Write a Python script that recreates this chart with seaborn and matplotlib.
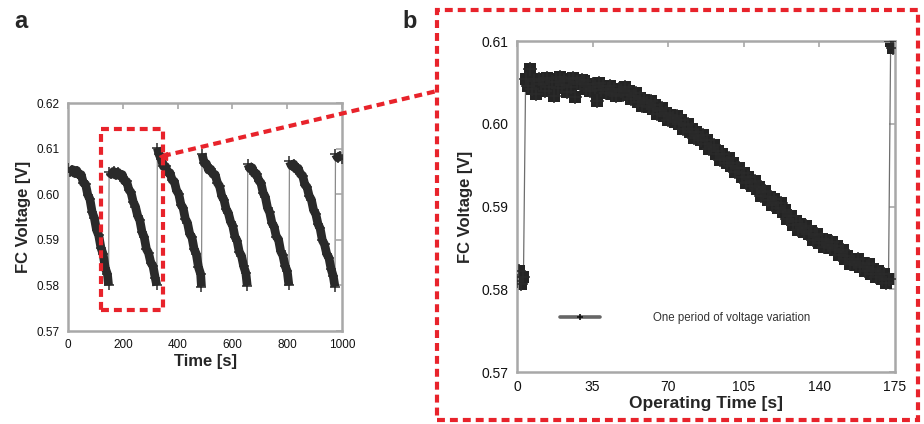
import numpy as np
import pandas as pd
import matplotlib
matplotlib.use("Agg")
import matplotlib.pyplot as plt
import seaborn as sns
from matplotlib.patches import Rectangle
from matplotlib.lines import Line2D

# ------------------------
# Data
# ------------------------
# panel a : FC voltage over 1000 s (six discharge cycles)
left_time = [0, 8, 16, 24, 32, 40, 48, 56, 64, 72, 80, 88, 96, 104, 112, 120, 128, 136, 144, 148,
             150, 158, 166, 174, 182, 190, 198, 206, 214, 222, 230, 238, 246, 254, 262, 270, 278, 286, 294, 302, 310, 318, 324,
             326, 332, 340, 348, 356, 364, 372, 380, 388, 396, 404, 412, 420, 428, 436, 444, 452, 460, 468, 476, 484, 487,
             489, 497, 505, 513, 521, 529, 537, 545, 553, 561, 569, 577, 585, 593, 601, 609, 617, 625, 633, 641, 649, 654,
             656, 664, 672, 680, 688, 696, 704, 712, 720, 728, 736, 744, 752, 760, 768, 776, 784, 792, 800, 806,
             808, 816, 824, 832, 840, 848, 856, 864, 872, 880, 888, 896, 904, 912, 920, 928, 936, 944, 952, 960, 968, 974,
             976, 984, 992, 1000]
left_volt = [0.6057, 0.6049, 0.6054, 0.6046, 0.6052, 0.6043, 0.6043, 0.6025, 0.6022, 0.5999, 0.5989, 0.5961, 0.5948, 0.5922, 0.5910, 0.5883, 0.5869, 0.5838, 0.5824, 0.5800,
             0.6049, 0.6044, 0.6050, 0.6042, 0.6048, 0.6040, 0.6043, 0.6029, 0.6028, 0.6010, 0.6004, 0.5983, 0.5973, 0.5953, 0.5943, 0.5917, 0.5906, 0.5880, 0.5871, 0.5850, 0.5843, 0.5817, 0.5800,
             0.6102, 0.6088, 0.6077, 0.6061, 0.6061, 0.6048, 0.6047, 0.6031, 0.6028, 0.6008, 0.6001, 0.5977, 0.5970, 0.5946, 0.5937, 0.5913, 0.5906, 0.5880, 0.5869, 0.5840, 0.5825, 0.5797,
             0.6089, 0.6068, 0.6067, 0.6053, 0.6055, 0.6044, 0.6043, 0.6025, 0.6018, 0.5996, 0.5988, 0.5967, 0.5959, 0.5940, 0.5931, 0.5907, 0.5898, 0.5873, 0.5865, 0.5842, 0.5827, 0.5799,
             0.6066, 0.6056, 0.6058, 0.6045, 0.6045, 0.6030, 0.6025, 0.6003, 0.5994, 0.5970, 0.5960, 0.5937, 0.5929, 0.5907, 0.5901, 0.5875, 0.5866, 0.5843, 0.5831, 0.5800,
             0.6072, 0.6062, 0.6066, 0.6055, 0.6057, 0.6044, 0.6041, 0.6021, 0.6016, 0.5996, 0.5988, 0.5965, 0.5957, 0.5935, 0.5925, 0.5899, 0.5890, 0.5869, 0.5861, 0.5836, 0.5820, 0.5797,
             0.6088, 0.6080, 0.6084, 0.6078]
left_cycle = [1] * 20 + [2] * 23 + [3] * 22 + [4] * 22 + [5] * 20 + [6] * 22 + [7] * 4

# panel b : one period of voltage variation, one sample per second
right_volt = [0.5810, 0.5822, 0.5806, 0.5815,
              0.6054, 0.6046, 0.6066, 0.6042, 0.6052, 0.6036, 0.6054, 0.6048, 0.6053, 0.6040,
              0.6055, 0.6045, 0.6050, 0.6033, 0.6054, 0.6043, 0.6056, 0.6047, 0.6052, 0.6038,
              0.6054, 0.6044, 0.6055, 0.6032, 0.6051, 0.6048, 0.6053,
              0.6052, 0.6042, 0.6048, 0.6039, 0.6048, 0.6044, 0.6028, 0.6049, 0.6041, 0.6046,
              0.6037, 0.6042, 0.6046, 0.6036, 0.6042, 0.6034, 0.6042, 0.6039, 0.6035, 0.6044,
              0.6035, 0.6040, 0.6030, 0.6034, 0.6037, 0.6026, 0.6031, 0.6022, 0.6029, 0.6025,
              0.6020, 0.6028, 0.6018, 0.6023, 0.6012, 0.6017, 0.6019, 0.6009, 0.6013, 0.6004,
              0.6011, 0.6007, 0.6002, 0.6009, 0.6000, 0.6004, 0.5994, 0.5998, 0.6000, 0.5990,
              0.5994, 0.5983, 0.5990, 0.5985, 0.5980, 0.5986, 0.5976, 0.5980, 0.5969, 0.5972,
              0.5974, 0.5963, 0.5967, 0.5956, 0.5963, 0.5958, 0.5953, 0.5959, 0.5949, 0.5953,
              0.5942, 0.5946, 0.5947, 0.5936, 0.5940, 0.5929, 0.5936, 0.5930, 0.5925, 0.5931,
              0.5921, 0.5924, 0.5913, 0.5917, 0.5919, 0.5908, 0.5912, 0.5902, 0.5909, 0.5904,
              0.5898, 0.5904, 0.5893, 0.5896, 0.5885, 0.5888, 0.5889, 0.5878, 0.5882, 0.5872,
              0.5879, 0.5874, 0.5869, 0.5876, 0.5867, 0.5871, 0.5860, 0.5865, 0.5867, 0.5856,
              0.5861, 0.5851, 0.5859, 0.5854, 0.5850, 0.5857, 0.5848, 0.5852, 0.5841, 0.5845,
              0.5847, 0.5836, 0.5840, 0.5830, 0.5837, 0.5833, 0.5829, 0.5837, 0.5827, 0.5832,
              0.5822, 0.5827, 0.5830, 0.5819, 0.5824, 0.5815, 0.5822, 0.5818, 0.5812, 0.5819,
              0.5808, 0.5812, 0.6100, 0.6092]
right_time = np.arange(len(right_volt))

left_xticks = [0, 200, 400, 600, 800, 1000]
left_yticks = [0.57, 0.58, 0.59, 0.60, 0.61, 0.62]
right_xticks = [0, 35, 70, 105, 140, 175]
right_yticks = [0.57, 0.58, 0.59, 0.60, 0.61]
legend_label = "One period of voltage variation"

df_a = pd.DataFrame({"t": left_time, "v": left_volt, "cycle": left_cycle})
df_b = pd.DataFrame({"t": right_time, "v": right_volt})

# ------------------------
# Style
# ------------------------
sns.set_style("white")
plt.rcParams["font.family"] = ["Liberation Sans", "DejaVu Sans"]

RED = "#e8232b"
FRAME = "#a8a8a8"
DASH = (0, (1.9, 1.2))

fig = plt.figure(figsize=(9.24, 4.24), dpi=100)
ax_a = fig.add_axes([0.0736, 0.2193, 0.2966, 0.5377])
ax_b = fig.add_axes([0.5595, 0.1226, 0.4091, 0.7807])


def style_axes(ax, size):
    for sp in ax.spines.values():
        sp.set_color(FRAME)
        sp.set_linewidth(1.8)
    ax.tick_params(direction="in", length=4, width=1.2, color=FRAME,
                   top=True, right=True, labelsize=size, labelcolor="#111111", pad=6)


# ------------------------
# Panel a
# ------------------------
sns.lineplot(data=df_a, x="t", y="v", sort=False, estimator=None, color="#8a8a8a",
             linewidth=0.9, zorder=1, ax=ax_a, legend=False)
sns.lineplot(data=df_a, x="t", y="v", units="cycle", estimator=None, color="#2a2a2a",
             linewidth=6.3, solid_capstyle="butt", solid_joinstyle="round", zorder=2,
             ax=ax_a, legend=False)
sns.scatterplot(data=df_a, x="t", y="v", marker="+", s=60, linewidth=1.1,
                color="#2a2a2a", zorder=3, ax=ax_a, legend=False)
ax_a.set_xlim(0, 1000)
ax_a.set_ylim(0.57, 0.62)
ax_a.set_xticks(left_xticks)
ax_a.set_yticks(left_yticks)
ax_a.set_yticklabels([f"{v:.2f}" for v in left_yticks])
style_axes(ax_a, 8.5)
ax_a.set_xlabel("Time [s]", fontsize=12, fontweight="bold", labelpad=2)
ax_a.set_ylabel("FC Voltage [V]", fontsize=12, fontweight="bold", labelpad=4)

# zoom box on panel a
ax_a.add_patch(Rectangle((120, 0.5746), 227, 0.0397, fill=False, edgecolor=RED,
                         linewidth=3, linestyle=DASH, clip_on=False, zorder=5))

# ------------------------
# Panel b
# ------------------------
sns.lineplot(data=df_b, x="t", y="v", sort=False, estimator=None, color="#6e6e6e",
             linewidth=0.9, zorder=1, ax=ax_b, legend=False)
sns.scatterplot(data=df_b, x="t", y="v", marker="s", s=70, linewidth=0,
                color="#242424", zorder=2, ax=ax_b, legend=False)
sns.scatterplot(data=df_b, x="t", y="v", marker="+", s=90, linewidth=1.1,
                color="#2a2a2a", zorder=3, ax=ax_b, legend=False)
ax_b.set_xlim(0, 175)
ax_b.set_ylim(0.57, 0.61)
ax_b.set_xticks(right_xticks)
ax_b.set_yticks(right_yticks)
ax_b.set_yticklabels([f"{v:.2f}" for v in right_yticks])
style_axes(ax_b, 10)
ax_b.set_xlabel("Operating Time [s]", fontsize=12.5, fontweight="bold", labelpad=1)
ax_b.set_ylabel("FC Voltage [V]", fontsize=12, fontweight="bold", labelpad=6)

handle = Line2D([0, 0.5, 1], [0, 0, 0], color="#666666", linewidth=2.6, marker="+", markersize=4,
                markeredgecolor="#111111", markevery=[1], markeredgewidth=1.2)
leg = ax_b.legend([handle], [legend_label], loc="center left", bbox_to_anchor=(560 / 924, 1 - 318 / 424),
                  bbox_transform=fig.transFigure, frameon=False, fontsize=8.3, handlelength=3.5,
                  handletextpad=4.6, borderpad=0, borderaxespad=0)
for txt in leg.get_texts():
    txt.set_color("#333333")

# ------------------------
# Red dashed frame around panel b + connector
# ------------------------
fig.add_artist(Rectangle((437 / 924, 1 - 420 / 424), (918 - 437) / 924, (420 - 10) / 424,
                         transform=fig.transFigure, fill=False, edgecolor=RED, linewidth=3,
                         linestyle=DASH, clip_on=False))
fig.add_artist(Line2D([163 / 924, 437 / 924], [1 - 156 / 424, 1 - 91 / 424],
                      transform=fig.transFigure, color=RED, linewidth=3, linestyle=DASH))
fig.add_artist(Line2D([163 / 924], [1 - 156 / 424], transform=fig.transFigure, color=RED,
                      marker="<", markersize=6, linestyle="none"))

fig.text(14 / 924, 1 - 22 / 424, "a", fontsize=17, fontweight="bold", va="center", ha="left")
fig.text(402 / 924, 1 - 22 / 424, "b", fontsize=17, fontweight="bold", va="center", ha="left")

fig.savefig("out.png", dpi=100)
